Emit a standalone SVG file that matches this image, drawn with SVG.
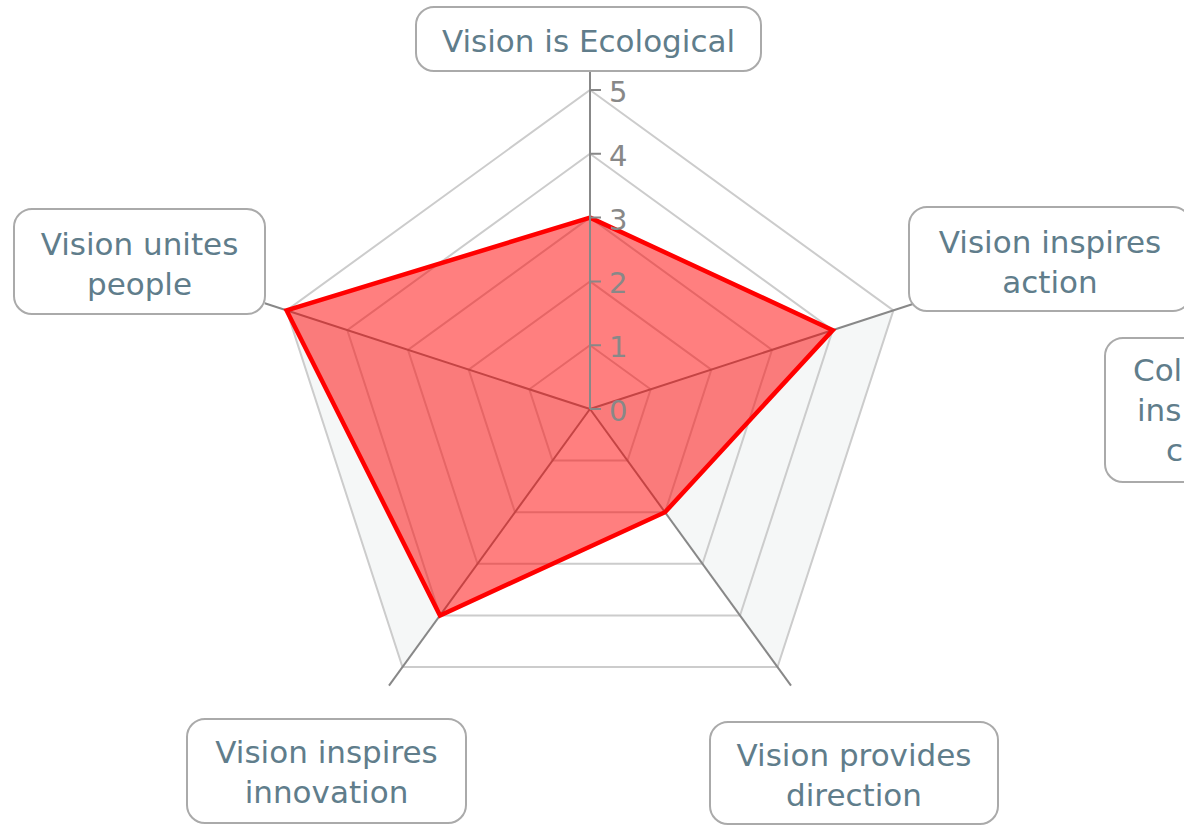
<svg xmlns="http://www.w3.org/2000/svg" width="1184" height="825" viewBox="0 0 1184 825">
<style>
.sector{fill:#f5f7f7;stroke:none}
.ring{fill:none;stroke:#cccccc;stroke-width:2}
.axis{stroke:#888888;stroke-width:2;fill:none}
.tick{fill:#888888;font-family:"DejaVu Sans",sans-serif;font-size:29px}
.box{fill:#ffffff;stroke:#aaaaaa;stroke-width:2}
.lbl{fill:#607d8b;font-family:"DejaVu Sans",sans-serif;font-size:31px;text-anchor:middle}
.lbls{fill:#607d8b;font-family:"DejaVu Sans",sans-serif;font-size:31px}
</style>
<rect width="1184" height="825" fill="#ffffff"/>
<g id="grid">
<polygon class="sector" points="590,409 893.39,310.42 777.51,667.08"/>
<polygon class="sector" points="590,409 402.49,667.08 286.61,310.42"/>
<polygon class="ring" points="590,345.2 650.68,389.28 627.5,460.62 552.5,460.62 529.32,389.28"/>
<polygon class="ring" points="590,281.4 711.36,369.57 665,512.23 515,512.23 468.64,369.57"/>
<polygon class="ring" points="590,217.6 772.03,349.85 702.5,563.85 477.5,563.85 407.97,349.85"/>
<polygon class="ring" points="590,153.8 832.71,330.14 740,615.46 440,615.46 347.29,330.14"/>
<polygon class="ring" points="590,90 893.39,310.42 777.51,667.08 402.49,667.08 286.61,310.42"/>
</g>
<g id="connectors">
<line class="axis" x1="590" y1="409" x2="915.26" y2="303.31"/>
<line class="axis" x1="590" y1="409" x2="791.02" y2="685.68"/>
<line class="axis" x1="590" y1="409" x2="388.98" y2="685.68"/>
<line class="axis" x1="590" y1="409" x2="264.74" y2="303.31"/>
</g>
<g id="series">
<polygon points="590,217.6 832.71,330.14 665,512.23 440,615.46 286.61,310.42" fill="#ff0000" fill-opacity="0.5" stroke="#ff0000" stroke-width="4.5" stroke-linejoin="miter"/>
</g>
<g id="scale">
<line class="axis" x1="590" y1="409" x2="590" y2="62"/>
<path class="axis" d="M590 409H601M590 345.2H601M590 281.4H601M590 217.6H601M590 153.8H601M590 90H601"/>
<text class="tick" x="609" y="421">0</text>
<text class="tick" x="609" y="357.2">1</text>
<text class="tick" x="609" y="293.4">2</text>
<text class="tick" x="609" y="229.6">3</text>
<text class="tick" x="609" y="165.8">4</text>
<text class="tick" x="609" y="102">5</text>
</g>
<g id="label-ecological">
<rect class="box" x="416" y="7" width="345" height="64" rx="18"/>
<text class="lbl" x="588.5" y="52">Vision is Ecological</text>
</g>
<g id="label-action">
<rect class="box" x="909" y="207" width="282" height="104" rx="18"/>
<text class="lbl" x="1050" y="253">Vision inspires</text>
<text class="lbl" x="1050" y="293">action</text>
</g>
<g id="label-collab">
<rect class="box" x="1105" y="338" width="200" height="144" rx="18"/>
<text class="lbls" x="1133" y="381">Col</text>
<text class="lbls" x="1137" y="421">ins</text>
<text class="lbls" x="1166" y="461">c</text>
</g>
<g id="label-direction">
<rect class="box" x="710" y="722" width="288" height="102" rx="18"/>
<text class="lbl" x="854" y="766">Vision provides</text>
<text class="lbl" x="854" y="806">direction</text>
</g>
<g id="label-innovation">
<rect class="box" x="187" y="719" width="279" height="104" rx="18"/>
<text class="lbl" x="326.5" y="763">Vision inspires</text>
<text class="lbl" x="326.5" y="803">innovation</text>
</g>
<g id="label-people">
<rect class="box" x="14" y="209" width="251" height="105" rx="18"/>
<text class="lbl" x="139.5" y="255">Vision unites</text>
<text class="lbl" x="139.5" y="295">people</text>
</g>
</svg>
